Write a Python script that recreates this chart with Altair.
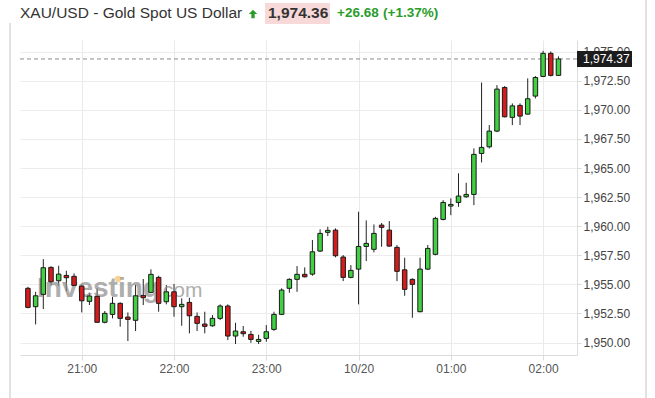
import altair as alt
import pandas as pd

# ---------------- data ----------------
OPEN = [1954.66, 1953.08, 1954.14, 1956.46, 1955.31, 1955.77, 1955.69, 1954.85, 1953.54, 1953.97,
        1951.74, 1952.42, 1953.37, 1952.19, 1951.91, 1954.05, 1954.31, 1955.60, 1953.51, 1954.36,
        1953.08, 1953.45, 1952.25, 1951.59, 1951.44, 1952.08, 1953.14, 1950.56, 1950.93, 1950.70,
        1950.10, 1950.36, 1951.13, 1952.42, 1954.66, 1955.43, 1955.86, 1955.88, 1957.86, 1959.47,
        1959.66, 1957.35, 1955.60, 1956.31, 1958.26, 1958.01, 1960.09, 1959.66, 1958.18, 1956.25,
        1955.43, 1952.65, 1956.31, 1957.58, 1960.58, 1961.73, 1962.04, 1962.53, 1962.73, 1966.25,
        1966.82, 1968.17, 1971.92, 1969.35, 1970.38, 1969.63, 1971.18, 1972.87, 1974.85, 1972.96]
HIGH = [1954.79, 1954.36, 1957.17, 1956.55, 1956.60, 1956.17, 1955.94, 1955.00, 1954.28, 1954.66,
        1952.71, 1953.93, 1953.45, 1952.59, 1954.94, 1955.46, 1956.29, 1955.74, 1954.94, 1955.03,
        1953.80, 1953.85, 1952.59, 1952.65, 1952.36, 1953.28, 1953.28, 1951.70, 1951.42, 1951.01,
        1950.67, 1951.50, 1952.65, 1954.66, 1955.52, 1956.57, 1956.46, 1958.81, 1959.73, 1959.95,
        1959.81, 1957.52, 1956.66, 1961.24, 1960.50, 1960.15, 1960.27, 1960.44, 1958.38, 1957.29,
        1955.52, 1957.29, 1958.38, 1960.80, 1962.24, 1962.39, 1964.54, 1963.73, 1966.68, 1972.35,
        1968.69, 1972.12, 1972.04, 1970.55, 1970.55, 1972.70, 1972.90, 1975.07, 1975.02, 1974.59]
LOW = [1952.94, 1951.56, 1952.88, 1954.94, 1954.88, 1954.42, 1954.85, 1952.59, 1953.22, 1951.70,
       1951.65, 1952.08, 1951.36, 1950.13, 1950.99, 1953.22, 1954.23, 1952.65, 1953.28, 1952.22,
       1951.44, 1950.79, 1950.99, 1950.79, 1951.36, 1951.93, 1950.21, 1949.87, 1950.50, 1949.98,
       1949.87, 1950.07, 1951.01, 1952.36, 1954.28, 1954.36, 1955.60, 1955.74, 1957.80, 1959.15,
       1957.32, 1955.28, 1955.52, 1953.28, 1957.00, 1957.75, 1958.23, 1958.23, 1955.28, 1954.02,
       1952.13, 1952.60, 1956.23, 1957.50, 1960.50, 1960.95, 1961.67, 1962.44, 1961.81, 1965.48,
       1966.68, 1968.08, 1969.35, 1968.69, 1968.69, 1969.60, 1970.98, 1972.81, 1972.87, 1972.90]
CLOSE = [1953.02, 1954.02, 1956.43, 1955.22, 1955.88, 1955.57, 1954.91, 1953.59, 1954.00, 1951.74,
         1952.51, 1953.37, 1952.08, 1951.99, 1954.02, 1953.85, 1955.86, 1953.37, 1954.36, 1953.08,
         1953.28, 1952.30, 1951.65, 1951.39, 1952.08, 1953.14, 1950.56, 1950.99, 1950.76, 1950.27,
         1950.27, 1950.93, 1952.42, 1954.51, 1955.43, 1955.86, 1955.65, 1957.80, 1959.38, 1959.64,
         1957.46, 1955.60, 1956.20, 1958.26, 1958.52, 1959.38, 1959.90, 1958.29, 1956.12, 1954.57,
         1955.00, 1956.31, 1958.09, 1960.67, 1962.04, 1961.87, 1962.59, 1962.73, 1966.17, 1966.77,
         1968.17, 1971.78, 1969.40, 1970.34, 1969.46, 1970.95, 1972.78, 1974.85, 1972.96, 1974.37]
# candle times: minutes after 20:00 (5-minute candles, 20:25 ... 02:10)
MINUTES = list(range(25, 25 + 5 * len(OPEN), 5))

TICK_MIN = [60, 120, 180, 240, 300, 360]
TICK_LABELS = ["21:00", "22:00", "23:00", "10/20", "01:00", "02:00"]
Y_TICKS = [1950.0, 1952.5, 1955.0, 1957.5, 1960.0, 1962.5, 1965.0, 1967.5, 1970.0, 1972.5, 1975.0]

TITLE = "XAU/USD - Gold Spot US Dollar"
LAST_PRICE = "1,974.36"
CHANGE = "+26.68"
CHANGE_PCT = "(+1.37%)"
LAST_CLOSE = 1974.37
LAST_CLOSE_LABEL = "1,974.37"
WATERMARK_1 = "Investing"
WATERMARK_2 = ".com"

FONT = "Liberation Sans, Arial, sans-serif"
GREEN = "#41d041"
RED = "#d41c1c"
W, H = 557, 315

df = pd.DataFrame({"t": MINUTES, "open": OPEN, "high": HIGH, "low": LOW, "close": CLOSE})
df["dir"] = ["up" if c >= o else "down" for o, c in zip(OPEN, CLOSE)]

label_expr = " : ".join(f"datum.value == {m} ? '{l}'" for m, l in zip(TICK_MIN, TICK_LABELS)) + " : ''"

xscale = alt.Scale(domain=[23.1, 378.8], nice=False, zero=False)
yscale = alt.Scale(domain=[1948.93, 1976.0], nice=False, zero=False)

xaxis = alt.Axis(values=TICK_MIN, labelExpr=label_expr, title=None, grid=True, gridColor="#e9e9e9",
                 domainColor="#dcdcdc", tickColor="#dcdcdc", tickSize=5, labelFont=FONT, labelFontSize=12,
                 labelColor="#555555", labelPadding=3, labelOverlap=False)
yaxis = alt.Axis(values=Y_TICKS, format=",.2f", orient="right", title=None, grid=True, gridColor="#ececec",
                 domainColor="#dcdcdc", tickColor="#dcdcdc", tickSize=4, labelFont=FONT, labelFontSize=12,
                 labelColor="#444444", labelPadding=2, labelOverlap=False, labelBound=False)


def X(field):
    return alt.X(field, type="quantitative", scale=xscale, axis=xaxis)


def Y(field):
    return alt.Y(field, type="quantitative", scale=yscale, axis=yaxis)


base = alt.Chart(df)
one = pd.DataFrame({"v": [0]})

watermark1 = alt.Chart(one).mark_text(text=WATERMARK_1, font=FONT, fontSize=28, fontWeight="bold",
                                      color="#8c8c8c", opacity=0.7, align="left", baseline="alphabetic").encode(
    x=alt.value(17), y=alt.value(257))
watermark2 = alt.Chart(one).mark_text(text=WATERMARK_2, font=FONT, fontSize=21,
                                      color="#8c8c8c", opacity=0.7, align="left", baseline="alphabetic").encode(
    x=alt.value(137), y=alt.value(257))
wm_dot = alt.Chart(one).mark_point(shape="circle", filled=True, size=40, color="#f5a623", opacity=0.5).encode(
    x=alt.value(98), y=alt.value(239))

last_df = pd.DataFrame({"price": [LAST_CLOSE], "lo": [LAST_CLOSE - 0.69], "hi": [LAST_CLOSE + 0.69],
                        "label": [LAST_CLOSE_LABEL]})
dash = alt.Chart(last_df).mark_rule(color="#8a8a8a", strokeDash=[4, 3], strokeWidth=1).encode(
    y=Y("price"), x=alt.value(0), x2=alt.value(W))
price_box = alt.Chart(last_df).mark_rect(color="#1c1c1c").encode(
    y=Y("hi"), y2="lo:Q", x=alt.value(W), x2=alt.value(W + 55))
price_txt = alt.Chart(last_df).mark_text(font=FONT, fontSize=12, color="white", align="left",
                                         baseline="middle").encode(
    y=Y("price"), x=alt.value(W + 6), text="label:N")

wicks = base.mark_rule(color="#222222", strokeWidth=1).encode(
    x=X("t"), y=Y("low"), y2="high:Q")
bodies = base.mark_bar(size=4.5, stroke="#1a1a1a", strokeWidth=1).encode(
    x=X("t"), y=Y("open"), y2="close:Q",
    fill=alt.Fill("dir:N", scale=alt.Scale(domain=["up", "down"], range=[GREEN, RED]), legend=None))

# header
title_txt = alt.Chart(one).mark_text(text=TITLE, font=FONT, fontSize=15.5, color="#333333", align="left",
                                     baseline="middle").encode(x=alt.value(0), y=alt.value(-27))
arrow = alt.Chart(one).mark_point(shape="M0,-1 L1,0 L0.4,0 L0.4,1 L-0.4,1 L-0.4,0 L-1,0 Z", filled=True,
                                  size=70, color="#2a9d2a", opacity=1).encode(x=alt.value(233), y=alt.value(-26))
pink = alt.Chart(one).mark_rect(color="#f8d9d9").encode(
    x=alt.value(245), x2=alt.value(310), y=alt.value(-37), y2=alt.value(-16))
price_hdr = alt.Chart(one).mark_text(text=LAST_PRICE, font=FONT, fontSize=15.5, fontWeight="bold",
                                     color="#333333", align="left", baseline="middle").encode(
    x=alt.value(248), y=alt.value(-27))
change_txt = alt.Chart(one).mark_text(text=CHANGE, font=FONT, fontSize=13.5, fontWeight="bold",
                                      color="#2a9d2a", align="left", baseline="middle").encode(
    x=alt.value(317), y=alt.value(-27))
pct_txt = alt.Chart(one).mark_text(text=CHANGE_PCT, font=FONT, fontSize=13.5, fontWeight="bold",
                                   color="#2a9d2a", align="left", baseline="middle").encode(
    x=alt.value(363), y=alt.value(-27))

frame_l = alt.Chart(one).mark_rule(color="#c4c4c4", strokeWidth=1).encode(
    x=alt.value(-10), y=alt.value(-17), y2=alt.value(358))
frame_r = alt.Chart(one).mark_rule(color="#c4c4c4", strokeWidth=1).encode(
    x=alt.value(626), y=alt.value(-40), y2=alt.value(358))

chart = alt.layer(
    wicks, watermark1, watermark2, wm_dot, dash, bodies, price_box, price_txt,
    pink, title_txt, arrow, price_hdr, change_txt, pct_txt, frame_l, frame_r
).properties(
    width=W, height=H,
    autosize=alt.AutoSizeParams(type="none"),
    padding={"left": 20, "top": 40, "right": 78, "bottom": 43},
    background="white",
).configure_view(stroke="transparent")

chart.save("out.html", embed_options={"renderer": "svg", "actions": False})
